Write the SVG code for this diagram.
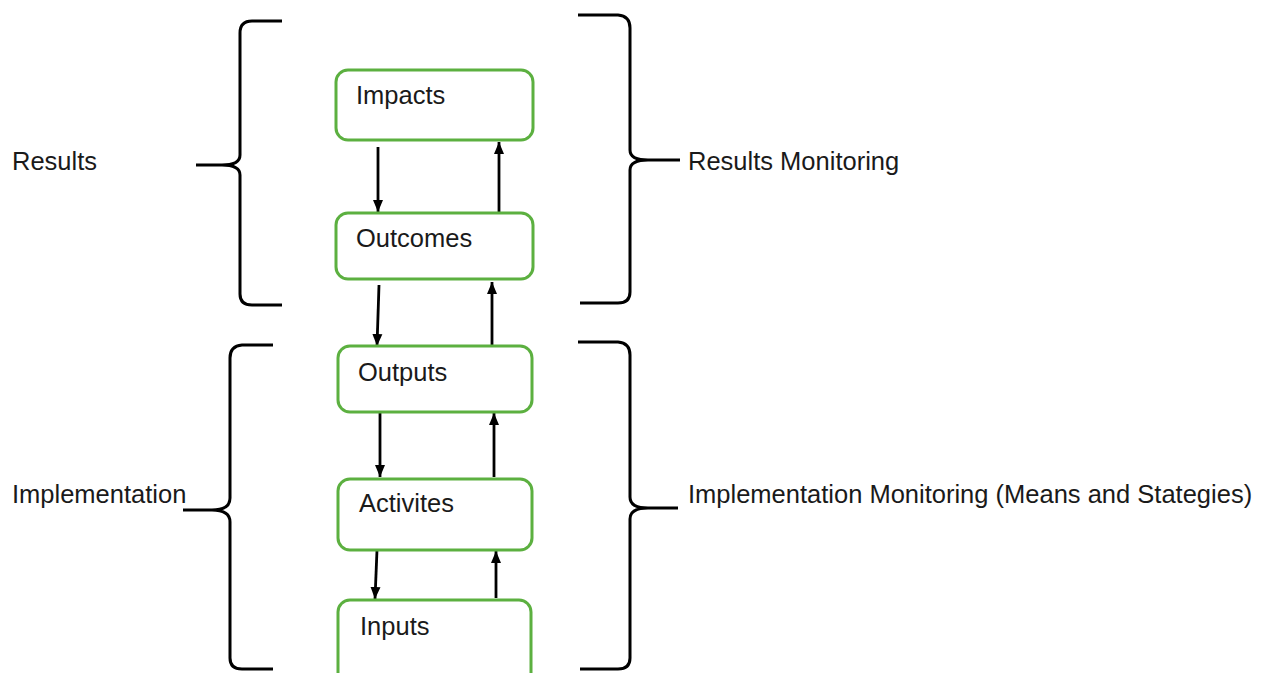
<svg xmlns="http://www.w3.org/2000/svg" width="1269" height="673" viewBox="0 0 1269 673">
  <style>
    .box { fill: #ffffff; stroke: #5cb040; stroke-width: 3; }
    .lbl { font-family: "Liberation Sans", Arial, sans-serif; font-size: 25.5px; fill: #1a1a1a; }
    .brace { fill: none; stroke: #000000; stroke-width: 3; stroke-linejoin: round; }
    .link { fill: none; stroke: #000000; stroke-width: 2.8; marker-end: url(#head); }
  </style>
  <defs>
    <marker id="head" markerUnits="userSpaceOnUse" markerWidth="13" markerHeight="13" viewBox="0 0 13 13" refX="12" refY="6.5" orient="auto">
      <path d="M0,1.5 L12,6.5 L0,11.5 Z" fill="#000000"/>
    </marker>
  </defs>
  <rect width="1269" height="673" fill="#ffffff"/>

  <!-- braces -->
  <g id="braces">
    <path class="brace" d="M282,21 H252 Q240,21 240,33 V155 Q240,165 222,165 H196 M222,165 Q240,165 240,175 V294 Q240,305 252,305 H282"/>
    <path class="brace" d="M578,15 H618 Q630,16 630,28 V150 Q630,160 648,160 H680 M648,160 Q630,160 630,170 V292 Q630,303 618,303 H580"/>
    <path class="brace" d="M273,345 H242 Q230,346 230,358 V498 Q230,510 212,510 H183 M212,510 Q230,510 230,522 V658 Q230,669 242,669 H273"/>
    <path class="brace" d="M578,342 H618 Q630,343 630,355 V497 Q630,508 648,508 H678 M648,508 Q630,508 630,519 V658 Q630,669 618,669 H580"/>
  </g>

  <!-- side labels -->
  <g id="side-labels">
    <text class="lbl" x="12" y="170">Results</text>
    <text class="lbl" x="688" y="170">Results Monitoring</text>
    <text class="lbl" x="12" y="503">Implementation</text>
    <text class="lbl" x="688" y="503">Implementation Monitoring (Means and Stategies)</text>
  </g>

  <!-- connectors -->
  <g id="connectors">
    <line class="link" x1="378" y1="147" x2="378" y2="212"/>
    <line class="link" x1="499" y1="212" x2="499" y2="142"/>
    <line class="link" x1="379" y1="285" x2="377" y2="346"/>
    <line class="link" x1="492" y1="346" x2="492" y2="282"/>
    <line class="link" x1="380" y1="413" x2="380" y2="477"/>
    <line class="link" x1="494" y1="477" x2="494" y2="413"/>
    <line class="link" x1="377" y1="550" x2="375" y2="599"/>
    <line class="link" x1="496" y1="598" x2="496" y2="551"/>
  </g>

  <g id="impacts">
    <rect class="box" x="336" y="70" width="197" height="70" rx="12"/>
    <text class="lbl" x="356" y="104">Impacts</text>
  </g>
  <g id="outcomes">
    <rect class="box" x="336" y="213" width="197" height="66" rx="12"/>
    <text class="lbl" x="356" y="247">Outcomes</text>
  </g>
  <g id="outputs">
    <rect class="box" x="338" y="346" width="194" height="66" rx="12"/>
    <text class="lbl" x="358" y="381">Outputs</text>
  </g>
  <g id="activites">
    <rect class="box" x="338" y="479" width="194" height="71" rx="12"/>
    <text class="lbl" x="359" y="512">Activites</text>
  </g>
  <g id="inputs">
    <rect class="box" x="338" y="600" width="193" height="90" rx="12"/>
    <text class="lbl" x="360" y="635">Inputs</text>
  </g>
</svg>
